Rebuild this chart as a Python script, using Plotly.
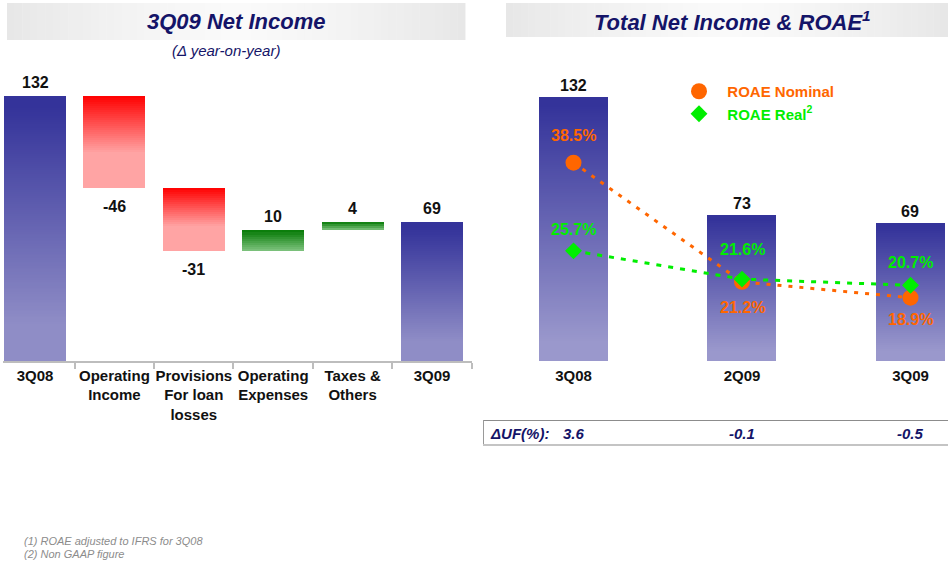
import plotly.graph_objects as go

W, H = 948, 576

# ---------------- data ----------------
wf_categories = ["3Q08", "Operating<br>Income", "Provisions<br>For loan<br>losses",
                 "Operating<br>Expenses", "Taxes &<br>Others", "3Q09"]
wf_values = [132, -46, -31, 10, 4, 69]
wf_kinds = ["total", "delta", "delta", "delta", "delta", "total"]

ni_periods = ["3Q08", "2Q09", "3Q09"]
ni_values = [132, 73, 69]
roae_nominal = [38.5, 21.2, 18.9]
roae_real = [25.7, 21.6, 20.7]
uf_change = [3.6, -0.1, -0.5]

# ---------------- helpers ----------------
def px_x(p):
    return p / W

def px_y(p):
    return 1 - p / H

def hex_rgb(h):
    h = h.lstrip("#")
    return tuple(int(h[i:i + 2], 16) for i in (0, 2, 4))

def mix(c_top, c_bot, t):
    a, b = hex_rgb(c_top), hex_rgb(c_bot)
    return "rgb(%d,%d,%d)" % tuple(round(a[i] + (b[i] - a[i]) * t) for i in range(3))

NAVY = "#141468"
FONT = "Liberation Sans, Arial, Helvetica, sans-serif"
ORANGE = "#FF6600"
LIME = "#00EE00"

GRADS = {
    "total": ("#34339A", "#8F8DC6", lambda t: min(1, max(0, (t - 0.04) / 0.82))),
    "neg": ("#FF0000", "#FFA4A4", lambda t: min(1, t / 0.62)),
    "pos": ("#067A06", "#80C480", lambda t: t),
    "right": ("#34339A", "#9A98CC", lambda t: min(1, max(0, (t - 0.03) / 0.9))),
}

fig = go.Figure()

def gradient_bar(cat, base, top, grad, xa, ya, width, px_per_unit):
    c_top, c_bot, curve = GRADS[grad]
    h = top - base
    n = max(2, int(round(h * px_per_unit / 2.0)))
    bases = [base + h * k / n for k in range(n)]
    heights = [h / n] * n
    colors = [mix(c_top, c_bot, curve(1 - (k + 0.5) / n)) for k in range(n)]
    fig.add_trace(go.Bar(
        x=[cat] * n, y=heights, base=bases, width=width,
        marker=dict(color=colors, line=dict(width=0)),
        xaxis=xa, yaxis=ya, showlegend=False, hoverinfo="skip"))

# ---------------- left: waterfall ----------------
LEFT_SCALE = 2.008
running = 0
wf_base, wf_top = [], []
for v, kind in zip(wf_values, wf_kinds):
    if kind == "total":
        b, t = 0, v
        running = v
    else:
        b, t = (running + v, running) if v < 0 else (running, running + v)
        running += v
    wf_base.append(b)
    wf_top.append(t)

for cat, v, kind, b, t in zip(wf_categories, wf_values, wf_kinds, wf_base, wf_top):
    grad = "total" if kind == "total" else ("neg" if v < 0 else "pos")
    gradient_bar(cat, b, t, grad, "x", "y", 0.78, LEFT_SCALE)

annotations = []
for cat, v, kind, b, t in zip(wf_categories, wf_values, wf_kinds, wf_base, wf_top):
    neg = v < 0 and kind != "total"
    annotations.append(dict(
        x=cat, y=b if neg else t, xref="x", yref="y", xanchor="center",
        text="<b>%d</b>" % v, showarrow=False,
        yanchor="top" if neg else "bottom", yshift=-8 if neg else 3,
        font=dict(family=FONT, size=16, color="#111111")))

# ---------------- right: net income bars + ROAE ----------------
RIGHT_SCALE = 2.0
for cat, v in zip(ni_periods, ni_values):
    gradient_bar(cat, 0, v, "right", "x2", "y2", 0.41, RIGHT_SCALE)
    annotations.append(dict(
        x=cat, y=v, xref="x2", yref="y2", xanchor="center", text="<b>%d</b>" % v,
        showarrow=False, yanchor="bottom", yshift=1,
        font=dict(family=FONT, size=16, color="#111111")))

fig.add_trace(go.Scatter(
    x=ni_periods, y=roae_nominal, xaxis="x2", yaxis="y3", mode="lines+markers",
    line=dict(color=ORANGE, width=3, dash="4px,7px"),
    marker=dict(symbol="circle", size=16, color=ORANGE),
    showlegend=False, hoverinfo="skip"))
fig.add_trace(go.Scatter(
    x=ni_periods, y=roae_real, xaxis="x2", yaxis="y3", mode="lines+markers",
    line=dict(color=LIME, width=3, dash="5px,7px"),
    marker=dict(symbol="diamond", size=13, color=LIME),
    showlegend=False, hoverinfo="skip"))

# legend-only entries (markers)
fig.add_trace(go.Scatter(
    x=[None], y=[None], xaxis="x2", yaxis="y3", mode="markers",
    marker=dict(symbol="circle", size=16, color=ORANGE),
    name='<span style="color:%s"><b>\u00a0 ROAE Nominal</b></span>' % ORANGE))
fig.add_trace(go.Scatter(
    x=[None], y=[None], xaxis="x2", yaxis="y3", mode="markers",
    marker=dict(symbol="diamond", size=13, color=LIME),
    name='<span style="color:%s"><b>\u00a0 ROAE Real<sup>2</sup></b></span>' % LIME))

nominal_label_shift = [27, -26, -22]
real_label_shift = [21, 30, 23]
for cat, v, s in zip(ni_periods, roae_nominal, nominal_label_shift):
    annotations.append(dict(
        x=cat, y=v, xref="x2", yref="y3", xanchor="center", text="<b>%.1f%%</b>" % v,
        showarrow=False, yanchor="middle", yshift=s,
        font=dict(family=FONT, size=16, color=ORANGE)))
for cat, v, s in zip(ni_periods, roae_real, real_label_shift):
    annotations.append(dict(
        x=cat, y=v, xref="x2", yref="y3", xanchor="center", text="<b>%.1f%%</b>" % v,
        showarrow=False, yanchor="middle", yshift=s,
        font=dict(family=FONT, size=16, color=LIME)))

# ---------------- ΔUF row ----------------
annotations.append(dict(
    x=px_x(488), y=px_y(433), xref="paper", yref="paper", xanchor="left", yanchor="middle",
    text="<b><i>ΔUF(%):</i></b>", showarrow=False, font=dict(family=FONT, size=15, color=NAVY)))
for cat, v in zip(ni_periods, uf_change):
    annotations.append(dict(
        x=cat, y=px_y(433), xref="x2", yref="paper", xanchor="center", yanchor="middle",
        text="<b><i>%.1f</i></b>" % v, showarrow=False,
        font=dict(family=FONT, size=15, color=NAVY)))

# ---------------- titles & footnotes ----------------
annotations += [
    dict(x=px_x(236), y=px_y(22), xref="paper", yref="paper", xanchor="center", yanchor="middle",
         text="<b><i>3Q09 Net Income</i></b>", showarrow=False,
         font=dict(family=FONT, size=22, color=NAVY)),
    dict(x=px_x(226), y=px_y(50), xref="paper", yref="paper", xanchor="center", yanchor="middle",
         text="<i>(Δ year-on-year)</i>", showarrow=False,
         font=dict(family=FONT, size=15, color=NAVY)),
    dict(x=px_x(732), y=px_y(21), xref="paper", yref="paper", xanchor="center", yanchor="middle",
         text="<b><i>Total Net Income &amp; ROAE<sup>1</sup></i></b>", showarrow=False,
         font=dict(family=FONT, size=22, color=NAVY)),
    dict(x=px_x(22), y=px_y(540.5), xref="paper", yref="paper", xanchor="left", yanchor="middle",
         text="<i>(1) ROAE adjusted to IFRS for 3Q08</i>", showarrow=False,
         font=dict(family=FONT, size=11, color="#8C8C8C")),
    dict(x=px_x(22), y=px_y(553.5), xref="paper", yref="paper", xanchor="left", yanchor="middle",
         text="<i>(2) Non GAAP figure</i>", showarrow=False,
         font=dict(family=FONT, size=11, color="#8C8C8C")),
]

# ---------------- shapes ----------------
shapes = []

def band(x0, x1, y0, y1, xc, n=60):
    for i in range(n):
        a = x0 + (x1 - x0) * i / n
        b = x0 + (x1 - x0) * (i + 1) / n
        m = (a + b) / 2
        half = (x1 - xc) if m > xc else (xc - x0)
        d = min(1.0, abs(m - xc) / half)
        g = round(250 - (250 - 231) * d ** 1.3)
        shapes.append(dict(type="rect", xref="paper", yref="paper", layer="below",
                           x0=px_x(a), x1=px_x(b) + 0.0005, y0=px_y(y1), y1=px_y(y0),
                           line=dict(width=0), fillcolor="rgb(%d,%d,%d)" % (g, g, g)))

band(7, 465, 3, 40, 236)
band(506, 948, 3, 37, 732)

shapes += [
    dict(type="line", xref="paper", yref="paper", x0=px_x(483), x1=1, y0=px_y(420.5), y1=px_y(420.5),
         line=dict(color="#8C8C8C", width=1)),
    dict(type="line", xref="paper", yref="paper", x0=px_x(483.5), x1=px_x(483.5), y0=px_y(420), y1=px_y(445),
         line=dict(color="#9A9A9A", width=1)),
    dict(type="line", xref="paper", yref="paper", x0=px_x(483), x1=1, y0=px_y(445), y1=px_y(445),
         line=dict(color="#C4C4C4", width=2)),
]

# ---------------- layout ----------------
y_dom = [px_y(361), px_y(60)]
fig.update_layout(
    width=W, height=H, autosize=False,
    margin=dict(l=0, r=0, t=0, b=0),
    paper_bgcolor="white", plot_bgcolor="rgba(0,0,0,0)",
    barmode="overlay", bargap=0,
    font=dict(family=FONT),
    showlegend=True,
    legend=dict(x=px_x(679), y=px_y(75), xanchor="left", yanchor="top",
                bgcolor="rgba(0,0,0,0)", borderwidth=0, tracegroupgap=0,
                font=dict(family=FONT, size=15)),
    xaxis=dict(domain=[px_x(3), px_x(472)], anchor="y", type="category",
               categoryorder="array", categoryarray=wf_categories,
               range=[-0.403, 5.504], tickson="boundaries", tickangle=0,
               ticks="outside", ticklen=6, tickcolor="#BDBDBD", tickwidth=1.5,
               showline=True, linecolor="#BDBDBD", linewidth=1.5,
               showgrid=False, zeroline=False, fixedrange=True,
               tickfont=dict(family=FONT, size=15, color="#111111", weight="bold")),
    yaxis=dict(domain=y_dom, anchor="x", range=[0, 301 / LEFT_SCALE], visible=False,
               showgrid=False, zeroline=False),
    xaxis2=dict(domain=[px_x(489.25), 1], anchor="y2", type="category",
                categoryorder="array", categoryarray=ni_periods, tickangle=0,
                range=[-0.5, 2.2226], ticks="", showline=False, showgrid=False,
                zeroline=False, ticklabelstandoff=4,
                tickfont=dict(family=FONT, size=15, color="#111111", weight="bold")),
    yaxis2=dict(domain=y_dom, anchor="x2", range=[0, 301 / RIGHT_SCALE], visible=False,
                showgrid=False, zeroline=False),
    yaxis3=dict(overlaying="y2", anchor="x2", range=[9.71, 53.41], visible=False,
                showgrid=False, zeroline=False),
    annotations=annotations,
    shapes=shapes,
)

fig.write_html("out.html", config={"displayModeBar": False},
               post_script="document.body.style.margin='0px';")
